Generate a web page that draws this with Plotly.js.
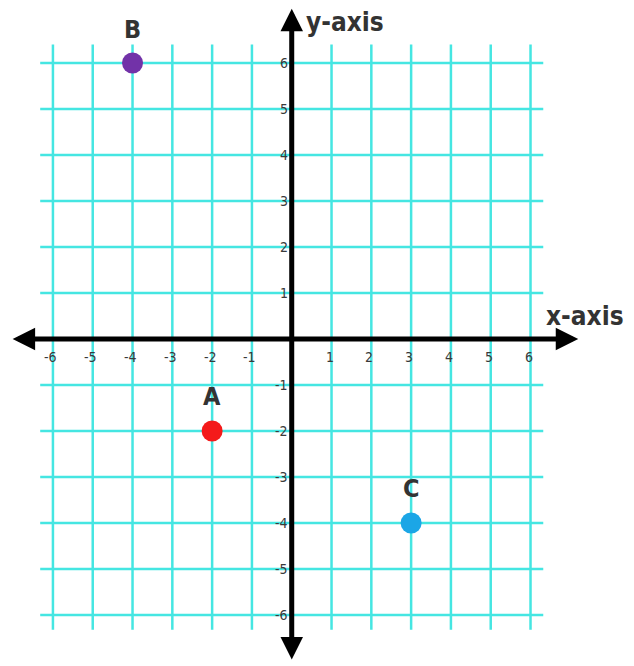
<!DOCTYPE html>
<html>
<head>
<meta charset="utf-8">
<script src="https://cdn.plot.ly/plotly-3.0.1.min.js"></script>
<style>
  html, body { margin: 0; padding: 0; background: #fff; }
  #chart { width: 634px; height: 666px; }
</style>
</head>
<body>
<div id="chart"></div>
<script>
// tick values on both axes
const xTicks = [-6, -5, -4, -3, -2, -1, 1, 2, 3, 4, 5, 6];
const yTicks = [-6, -5, -4, -3, -2, -1, 1, 2, 3, 4, 5, 6];
const gridVals = [-6, -5, -4, -3, -2, -1, 0, 1, 2, 3, 4, 5, 6];

// plotted points
const pointNames = ["A", "B", "C"];
const pointX = [-2, -4, 3];
const pointY = [-2, 6, -4];
const pointColors = ["#f41a1a", "#7232a8", "#1ba6e6"];

const gridEdge = 6.32;
const gridColor = "#45e6e2";
const textColor = "#333333";
const font = "DejaVu Sans Condensed, Liberation Sans Narrow, sans-serif";

// grid lines (vertical + horizontal), within the grid square only
const shapes = [];
gridVals.forEach((v) => {
  shapes.push({
    type: "line", xref: "x", yref: "y", layer: "below",
    x0: v, x1: v, y0: -gridEdge, y1: gridEdge + 0.08,
    line: { color: gridColor, width: 2.5 },
  });
  shapes.push({
    type: "line", xref: "x", yref: "y", layer: "below",
    x0: -gridEdge, x1: gridEdge, y0: v, y1: v,
    line: { color: gridColor, width: 2.5 },
  });
});

const annotations = [];

// axis arrows (double headed)
annotations.push({
  xref: "x", yref: "y", axref: "x", ayref: "y",
  x: 7.2, y: 0, ax: -7.05, ay: 0, text: "",
  showarrow: true, arrowside: "end+start",
  arrowhead: 2, startarrowhead: 2, arrowsize: 0.9, startarrowsize: 0.9,
  arrowwidth: 5, arrowcolor: "#000", standoff: 0, startstandoff: 0,
});
annotations.push({
  xref: "x", yref: "y", axref: "x", ayref: "y",
  x: 0, y: 7.18, ax: 0, ay: -7.0, text: "",
  showarrow: true, arrowside: "end+start",
  arrowhead: 2, startarrowhead: 2, arrowsize: 0.9, startarrowsize: 0.9,
  arrowwidth: 5, arrowcolor: "#000", standoff: 0, startstandoff: 0,
});

// axis names
annotations.push({
  xref: "x", yref: "y", x: 0.3, y: 6.9, text: "<b>y-axis</b>",
  showarrow: false, xanchor: "left", yanchor: "middle",
  font: { family: font, size: 26, color: textColor },
});
annotations.push({
  xref: "x", yref: "y", x: 6.35, y: 0.5, text: "<b>x-axis</b>",
  showarrow: false, xanchor: "left", yanchor: "middle",
  font: { family: font, size: 26, color: textColor },
});

// tick labels
xTicks.forEach((t) => {
  annotations.push({
    xref: "x", yref: "y", x: t, y: 0, yshift: -18, xshift: -2,
    text: String(t), showarrow: false,
    font: { family: font, size: 14, color: "#3a3a3a" },
  });
});
yTicks.forEach((t) => {
  annotations.push({
    xref: "x", yref: "y", x: 0, y: t, xshift: -2,
    text: String(t), showarrow: false, xanchor: "right",
    font: { family: font, size: 14, color: "#3a3a3a" },
  });
});

// point labels
pointNames.forEach((n, i) => {
  annotations.push({
    xref: "x", yref: "y", x: pointX[i], y: pointY[i], yshift: 34,
    text: "<b>" + n + "</b>", showarrow: false,
    font: { family: font, size: 25, color: textColor },
  });
});

const pointsTrace = {
  x: pointX,
  y: pointY,
  text: pointNames,
  type: "scatter",
  mode: "markers",
  marker: { size: 21, color: pointColors },
  hoverinfo: "text",
  cliponaxis: false,
};

const layout = {
  width: 634,
  height: 666,
  margin: { l: 0, r: 0, t: 0, b: 0 },
  paper_bgcolor: "#ffffff",
  plot_bgcolor: "#ffffff",
  showlegend: false,
  xaxis: {
    range: [-7.33, 8.6],
    visible: false,
    fixedrange: true,
  },
  yaxis: {
    range: [-7.11, 7.37],
    visible: false,
    fixedrange: true,
  },
  shapes: shapes,
  annotations: annotations,
};

Plotly.newPlot("chart", [pointsTrace], layout, { displayModeBar: false, staticPlot: true });
</script>
</body>
</html>
